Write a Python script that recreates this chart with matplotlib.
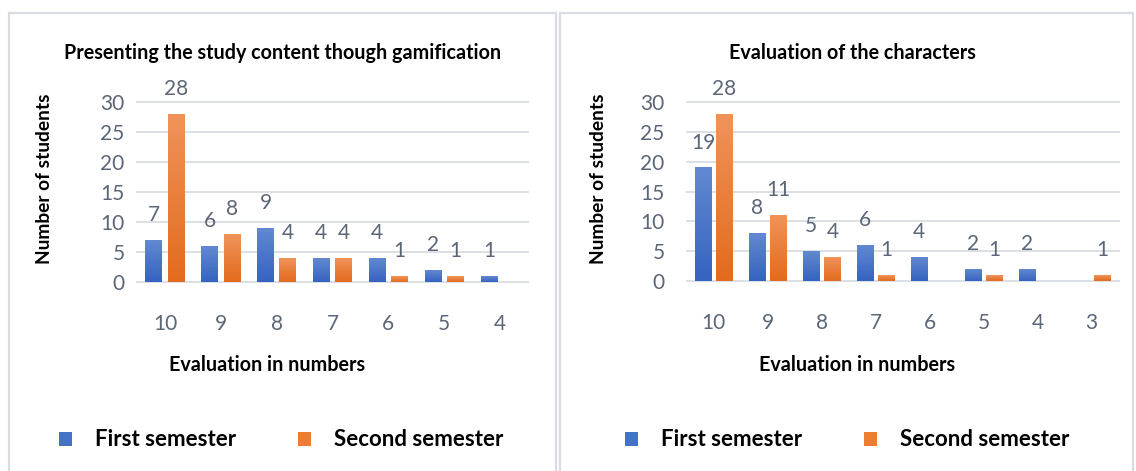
import matplotlib
matplotlib.use("Agg")
import matplotlib.pyplot as plt
import numpy as np
from matplotlib.colors import LinearSegmentedColormap
from matplotlib.patches import Patch, Rectangle

W, H = 1136, 471

gamif_grades = ["10", "9", "8", "7", "6", "5", "4"]
gamif_first = [7, 6, 9, 4, 4, 2, 1]
gamif_second = [28, 8, 4, 4, 1, 1, 0]

chars_grades = ["10", "9", "8", "7", "6", "5", "4", "3"]
chars_first = [19, 8, 5, 6, 4, 2, 2, 0]
chars_second = [28, 11, 4, 1, 0, 1, 0, 1]

series_names = ["First semester", "Second semester"]

BLUE = ("#3563c0", "#6289d0")     # bottom, top
ORANGE = ("#e36b1d", "#f0935a")
TICK_COLOR = "#5b6678"
GRID_COLOR = "#dcdfe4"

plt.rcParams["font.family"] = ["Lato", "DejaVu Sans"]


def fx(px):
    return px / W


def fy(py):
    return 1 - py / H


def gradient_bars(ax, bars, colors):
    cmap = LinearSegmentedColormap.from_list("g", list(colors))
    grad = np.linspace(0, 1, 64).reshape(-1, 1)
    for b in bars:
        h = b.get_height()
        if h <= 0:
            continue
        x, w = b.get_x(), b.get_width()
        ax.imshow(grad, extent=(x, x + w, 0, h), origin="lower", cmap=cmap,
                  aspect="auto", zorder=3, interpolation="bilinear")
        b.set_visible(False)


def draw_panel(fig, rect, grades, first, second, ytick_pad):
    ax = fig.add_axes(rect)
    x = np.arange(len(grades))
    width = 0.3
    off = 0.2
    b1 = ax.bar(x - off, first, width, color=BLUE[1], zorder=3)
    b2 = ax.bar(x + off, second, width, color=ORANGE[1], zorder=3)
    gradient_bars(ax, b1, BLUE)
    gradient_bars(ax, b2, ORANGE)

    for xs, vals in ((x - off, first), (x + off, second)):
        for xi, v in zip(xs, vals):
            if v == 0:
                continue
            ax.annotate(str(v), (xi, v), xytext=(0, 18), textcoords="offset points",
                        ha="center", va="center", fontsize=15, color=TICK_COLOR,
                        annotation_clip=False)

    ax.set_xlim(-0.5, len(grades) - 0.5)
    ax.set_ylim(0, 30)
    ax.set_yticks(range(0, 31, 5))
    ax.set_xticks(x)
    ax.set_xticklabels(grades)
    ax.tick_params(axis="both", length=0, labelsize=15, labelcolor=TICK_COLOR)
    ax.tick_params(axis="x", pad=23)
    ax.tick_params(axis="y", pad=ytick_pad)
    ax.grid(axis="y", color=GRID_COLOR, lw=1.4, zorder=0)
    for line in ax.get_ygridlines():
        line.set_clip_on(False)
    for s in ax.spines.values():
        s.set_visible(False)
    ax.set_facecolor("none")
    return ax


fig = plt.figure(figsize=(W / 100, H / 100), dpi=100)

# panel frames
fig.patches.append(Rectangle((fx(9), fy(480)), fx(556 - 9), (480 - 12.5) / H,
                             transform=fig.transFigure, fill=False,
                             edgecolor="#d9dde3", lw=1.6, zorder=0))
fig.patches.append(Rectangle((fx(560), fy(480)), fx(1133 - 560), (480 - 13) / H,
                             transform=fig.transFigure, fill=False,
                             edgecolor="#d9dde3", lw=1.6, zorder=0))

ax1 = draw_panel(fig, [fx(137), fy(281.7), fx(528 - 137), (281.7 - 102.3) / H],
                 gamif_grades, gamif_first, gamif_second, ytick_pad=9)
ax2 = draw_panel(fig, [fx(686.7), fy(281), fx(1118.7 - 686.7), (281 - 102.3) / H],
                 chars_grades, chars_first, chars_second, ytick_pad=16)

# titles and axis labels
fig.text(fx(283), fy(53), "Presenting the study content though gamification",
         ha="center", va="center", fontsize=14.2, fontweight="bold")
fig.text(fx(852), fy(53), "Evaluation of the characters",
         ha="center", va="center", fontsize=14.2, fontweight="bold")
for xp, xl in ((45, 267), (599, 857)):
    fig.text(fx(xp), fy(179), "Number of students", rotation=90,
             ha="center", va="center", fontsize=13.8, fontweight="bold")
    fig.text(fx(xl), fy(365), "Evaluation in numbers",
             ha="center", va="center", fontsize=14.2, fontweight="bold")

handles = [Patch(facecolor="#4472c4"), Patch(facecolor="#ed7d31")]
for cx in (281, 847):
    fig.legend(handles, series_names, loc="center", ncol=2,
               bbox_to_anchor=(fx(cx), fy(440)), frameon=False,
               prop={"size": 16, "weight": "bold"},
               handlelength=0.6, handleheight=0.6, handletextpad=1.0,
               columnspacing=2.8)

fig.savefig("out.png", dpi=100)
